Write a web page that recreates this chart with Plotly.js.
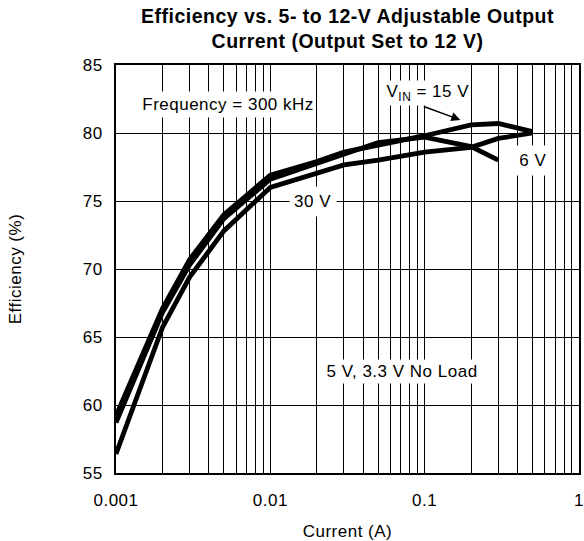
<!DOCTYPE html>
<html>
<head>
<meta charset="utf-8">
<script src="https://cdn.plot.ly/plotly-3.0.1.min.js"></script>
<style>html,body{margin:0;padding:0;background:#fff;}#chart{width:584px;height:541px;}#chart text{letter-spacing:0.5px;}</style>
</head>
<body>
<div id="chart"></div>
<script>
// Current (A)
const current = [0.001, 0.002, 0.003, 0.005, 0.01, 0.02, 0.03, 0.05, 0.1, 0.2, 0.3, 0.5];
const current6V = [0.001, 0.002, 0.003, 0.005, 0.01, 0.02, 0.03, 0.05, 0.1, 0.2, 0.3];
// Efficiency (%)
const eff15V = [59.2, 67.1, 70.7, 74.0, 76.9, 77.9, 78.6, 79.1, 79.8, 80.6, 80.7, 80.1];
const eff6V  = [58.7, 66.8, 70.3, 73.7, 76.6, 77.8, 78.5, 79.3, 79.7, 79.0, 78.0];
const eff30V = [56.4, 65.7, 69.4, 72.8, 76.0, 77.0, 77.65, 78.0, 78.6, 78.95, 79.6, 80.0];

const xTickVals = [0.001, 0.01, 0.1, 1];
const xTickText = ['0.001', '0.01', '0.1', '1'];
const minorVals = [];
[0.001, 0.01, 0.1].forEach(d => { for (let k = 2; k <= 9; k++) minorVals.push(+(d * k).toPrecision(3)); });

const FONT = 'Liberation Sans, Arial, sans-serif';
const FS = 17;
const lineStyle = {color: 'black', width: 4.8};

const traces = [
  {x: current, y: eff30V, mode: 'lines', line: lineStyle, name: '30 V'},
  {x: current6V, y: eff6V, mode: 'lines', line: lineStyle, name: '6 V'},
  {x: current, y: eff15V, mode: 'lines', line: lineStyle, name: '15 V'}
];

const layout = {
  width: 584, height: 541,
  margin: {l: 116, r: 5, t: 65, b: 68},
  paper_bgcolor: 'white', plot_bgcolor: 'white',
  showlegend: false,
  font: {family: FONT, size: FS, color: 'black'},
  title: {
    text: 'Efficiency vs. 5- to 12-V Adjustable Output<br>Current (Output Set to 12 V)',
    font: {family: FONT, size: 19.5, color: 'black', weight: 'bold'},
    x: 0.5, xref: 'paper', xanchor: 'center',
    y: 0.958, yref: 'container', yanchor: 'top'
  },
  xaxis: {
    type: 'log', range: [-3, 0],
    tickmode: 'array', tickvals: xTickVals, ticktext: xTickText,
    showgrid: true, gridcolor: 'black', gridwidth: 1,
    minor: {tickmode: 'array', tickvals: minorVals, showgrid: true, gridcolor: 'black', gridwidth: 1, ticks: ''},
    showline: true, mirror: true, linecolor: 'black', linewidth: 2,
    ticks: '', zeroline: false, ticklabelstandoff: 11,
    tickfont: {family: FONT, size: FS, color: 'black'},
    title: {text: 'Current (A)', font: {family: FONT, size: FS, color: 'black'}, standoff: 16}
  },
  yaxis: {
    range: [55, 85], tickmode: 'linear', tick0: 55, dtick: 5,
    showgrid: true, gridcolor: 'black', gridwidth: 1,
    showline: true, mirror: true, linecolor: 'black', linewidth: 2,
    ticks: '', zeroline: false, ticklabelstandoff: 8,
    tickfont: {family: FONT, size: FS, color: 'black'},
    title: {text: 'Efficiency (%)', font: {family: FONT, size: FS, color: 'black'}, standoff: 58}
  },
  annotations: [
    {x: -2.272, y: 82.06, xref: 'x', yref: 'y', text: 'Frequency = 300 kHz', showarrow: false,
     bgcolor: 'white', borderpad: 3, font: {family: FONT, size: FS, color: 'black'}},
    {x: -0.976, y: 82.94, xref: 'x', yref: 'y', text: 'V<sub>IN</sub> = 15 V', showarrow: false,
     bgcolor: 'white', borderpad: 1, font: {family: FONT, size: FS, color: 'black'}},
    {x: -0.769, y: 80.96, xref: 'x', yref: 'y', text: '', showarrow: true, ax: -38, ay: -14,
     arrowhead: 2, arrowsize: 1.2, arrowwidth: 1.5, arrowcolor: 'black'},
    {x: -0.2955, y: 78.0, xref: 'x', yref: 'y', text: '6 V', showarrow: false,
     bgcolor: 'white', borderpad: 5, font: {family: FONT, size: FS, color: 'black'}},
    {x: -1.721, y: 75.0, xref: 'x', yref: 'y', text: '30 V', showarrow: false,
     bgcolor: 'white', borderpad: 5, font: {family: FONT, size: FS, color: 'black'}},
    {x: -1.148, y: 62.43, xref: 'x', yref: 'y', text: '5 V, 3.3 V No Load', showarrow: false,
     bgcolor: 'white', borderpad: 2, font: {family: FONT, size: FS, color: 'black'}}
  ]
};

Plotly.newPlot('chart', traces, layout, {staticPlot: true, displayModeBar: false});
</script>
</body>
</html>
